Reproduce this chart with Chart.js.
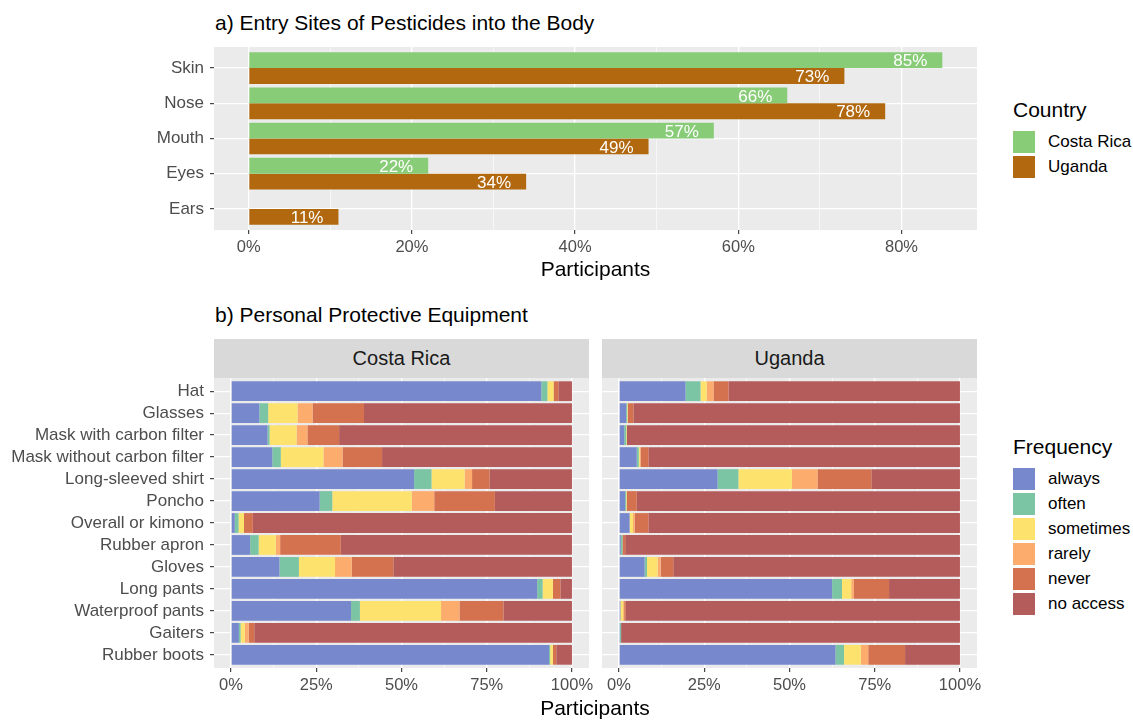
<!DOCTYPE html>
<html>
<head>
<meta charset="utf-8">
<title>Pesticide exposure</title>
<script src="https://cdn.jsdelivr.net/npm/chart.js@4.4.1/dist/chart.umd.min.js"></script>
<style>
  body { margin: 0; background: #fff; font-family: "Liberation Sans", Arial, sans-serif; }
  #page { position: relative; width: 1133px; height: 720px; overflow: hidden; }
  #page > * { position: absolute; }
  .title { font-size: 21px; line-height: 24px; color: #000; white-space: nowrap; }
  .strip { background: #d9d9d9; color: #1a1a1a; font-size: 20px; display: flex; align-items: center; justify-content: center; }
  .legend .legend-title { font-size: 21px; line-height: 24px; color: #000; margin-bottom: 9px; white-space: nowrap; }
  .legend .item { display: flex; align-items: center; height: 22px; margin-bottom: 3px; }
  .legend .key { width: 22px; height: 22px; margin-right: 13px; }
  .legend .label { font-size: 17px; color: #000; white-space: nowrap; }
</style>
</head>
<body>
<div id="page">
  <div class="title" style="left:215px; top:11px;">a) Entry Sites of Pesticides into the Body</div>
  <canvas id="entryChart" width="1000" height="256" style="left:0; top:27px;"></canvas>
  <div class="legend" id="countryLegend" style="left:1013px; top:98px;"></div>

  <div class="title" style="left:215px; top:303px;">b) Personal Protective Equipment</div>
  <div class="strip" style="left:214px; top:339px; width:375px; height:39px;">Costa Rica</div>
  <div class="strip" style="left:602px; top:339px; width:375px; height:39px;">Uganda</div>
  <canvas id="costaRicaChart" width="600" height="340" style="left:0; top:358px;"></canvas>
  <canvas id="ugandaChart" width="398" height="340" style="left:592px; top:358px;"></canvas>
  <div class="title" style="left:495px; top:696px; width:200px; text-align:center;">Participants</div>
  <div class="legend" id="frequencyLegend" style="left:1013px; top:435px;"></div>
</div>

<script>
// ---- a) entry sites ----
const bodySites = ['Skin', 'Nose', 'Mouth', 'Eyes', 'Ears'];
const countries = ['Costa Rica', 'Uganda'];
const countryColors = ['#88cc77', '#b1680f'];
const costaRicaEntry = [85, 66, 57, 22, 0];
const ugandaEntry = [73, 78, 49, 34, 11];
const entryTicks = [0, 10, 20, 30, 40, 50, 60, 70, 80];
const entryMajor = [0, 20, 40, 60, 80];

// ---- b) protective equipment (percent of participants) ----
const equipment = ['Hat', 'Glasses', 'Mask with carbon filter', 'Mask without carbon filter',
  'Long-sleeved shirt', 'Poncho', 'Overall or kimono', 'Rubber apron', 'Gloves',
  'Long pants', 'Waterproof pants', 'Gaiters', 'Rubber boots'];
const frequencies = ['always', 'often', 'sometimes', 'rarely', 'never', 'no access'];
const frequencyColors = ['#7789cc', '#7bc4a4', '#fde36e', '#fcad6e', '#d4714f', '#b45c5c'];

const costaRicaAlways    = [91.0, 8.3, 10.7, 12.1, 53.7, 26.0, 1.1, 5.6, 14.2, 89.8, 35.2, 2.3, 93.3];
const costaRicaOften     = [1.8, 2.6, 0.6, 2.5, 5.1, 3.7, 1.1, 2.5, 5.7, 1.6, 2.6, 0.5, 0.3];
const costaRicaSometimes = [1.8, 8.6, 7.9, 12.5, 9.7, 23.3, 1.6, 5.0, 10.6, 3.0, 23.8, 1.2, 0.8];
const costaRicaRarely    = [0, 4.4, 3.2, 5.6, 2.2, 6.6, 0, 1.3, 4.9, 0, 5.4, 1.2, 0];
const costaRicaNever     = [1.4, 15.1, 9.3, 11.6, 5.1, 17.8, 2.6, 17.8, 12.2, 2.2, 12.9, 1.6, 1.0];
const costaRicaNoAccess  = [4.0, 61.0, 68.3, 55.7, 24.2, 22.6, 93.6, 67.8, 52.4, 3.4, 20.1, 93.2, 4.6];

const ugandaAlways    = [19.5, 2.1, 1.5, 5.2, 28.9, 1.8, 3.1, 0.5, 7.5, 62.5, 0.4, 0.3, 63.5];
const ugandaOften     = [4.4, 0.3, 0.6, 0.6, 6.1, 0.3, 0, 0.5, 0.7, 2.9, 0, 0.3, 2.5];
const ugandaSometimes = [1.8, 0.2, 0.2, 0.3, 15.7, 0.2, 1.0, 0, 3.1, 2.7, 0.8, 0, 4.9];
const ugandaRarely    = [2.0, 0, 0, 0.2, 7.5, 0, 0.5, 0, 0.9, 0.8, 0.3, 0, 2.2];
const ugandaNever     = [4.4, 1.6, 0, 2.3, 15.8, 2.9, 4.0, 0.8, 3.7, 10.3, 0.5, 0, 10.8];
const ugandaNoAccess  = [67.9, 95.8, 97.7, 91.4, 26.0, 94.8, 91.4, 98.2, 84.1, 20.8, 98.0, 99.4, 16.1];

const ppeTicks = [0, 12.5, 25, 37.5, 50, 62.5, 75, 87.5, 100];
const ppeMajor = [0, 25, 50, 75, 100];

Chart.defaults.font.family = '"Liberation Sans", Arial, sans-serif';
Chart.defaults.color = '#4d4d4d';
Chart.defaults.animation = false;

// grey panel like ggplot
const panelBackground = {
  id: 'panelBackground',
  beforeDraw(chart) {
    const { ctx, chartArea: a } = chart;
    ctx.save();
    ctx.fillStyle = '#ebebeb';
    ctx.fillRect(a.left, a.top, a.right - a.left, a.bottom - a.top);
    ctx.restore();
  }
};

// white percent labels near the end of each bar
const barLabels = {
  id: 'barLabels',
  afterDatasetsDraw(chart) {
    const { ctx } = chart;
    ctx.save();
    ctx.font = '17px "Liberation Sans", Arial, sans-serif';
    ctx.fillStyle = '#ffffff';
    ctx.textAlign = 'right';
    ctx.textBaseline = 'middle';
    chart.data.datasets.forEach((ds, i) => {
      chart.getDatasetMeta(i).data.forEach((bar, j) => {
        const v = ds.data[j].x;
        if (!v) return;
        ctx.fillText(v + '%', bar.x - 15, bar.y + 1.5);
      });
    });
    ctx.restore();
  }
};

function valueAxis(min, max, tickValues, majors, height, title) {
  const isMajor = v => majors.includes(v);
  return {
    type: 'linear', min: min, max: max, bounds: 'data',
    stacked: true,
    afterBuildTicks: s => { s.ticks = tickValues.map(v => ({ value: v })); },
    afterFit: s => { s.height = height; },
    border: { display: false },
    grid: {
      color: '#ffffff',
      lineWidth: c => (c.tick && isMajor(c.tick.value)) ? 1.3 : 0.6,
      tickColor: c => (c.tick && isMajor(c.tick.value)) ? '#333333' : 'rgba(0,0,0,0)',
      tickLength: 4,
      tickWidth: 1.1
    },
    ticks: {
      autoSkip: false, maxRotation: 0, padding: 4,
      font: { size: 16.5 }, color: '#4d4d4d',
      callback: v => isMajor(v) ? v + '%' : ''
    },
    title: title ? { display: true, text: title, color: '#000', font: { size: 21 }, padding: { top: 0, bottom: 0 } } : { display: false }
  };
}

function indexAxis(labels, showLabels, width, stacked) {
  return {
    type: 'linear', min: -0.6, max: labels.length - 0.4, reverse: true,
    offset: false, bounds: 'data', stacked: stacked,
    afterBuildTicks: s => { s.ticks = labels.map((l, i) => ({ value: i })); },
    afterFit: s => { s.width = width; },
    border: { display: false },
    grid: {
      color: '#ffffff', lineWidth: 1.3, offset: false,
      drawTicks: showLabels, tickLength: 4, tickColor: '#333333', tickWidth: 1.1
    },
    ticks: {
      display: showLabels, autoSkip: false, padding: 6,
      font: { size: 17 }, color: '#4d4d4d',
      callback: v => labels[v]
    }
  };
}

const asPoints = values => values.map((v, i) => ({ x: v, y: i }));

// ---- chart a ----
const entryData = [costaRicaEntry, ugandaEntry];
const entryXAxis = valueAxis(-4.25, 89.25, entryTicks, entryMajor, 53, 'Participants');
entryXAxis.stacked = false;
new Chart(document.getElementById('entryChart'), {
  type: 'bar',
  data: {
    datasets: countries.map((c, i) => ({
      label: c,
      data: asPoints(entryData[i]),
      backgroundColor: countryColors[i],
      borderWidth: 0,
      categoryPercentage: 0.9,
      barPercentage: 1
    }))
  },
  options: {
    indexAxis: 'y',
    responsive: false,
    layout: { padding: { top: 20, right: 23, left: 0, bottom: 0 } },
    plugins: { legend: { display: false }, tooltip: { enabled: false } },
    scales: {
      x: entryXAxis,
      y: indexAxis(bodySites, true, 214, false)
    }
  },
  plugins: [panelBackground, barLabels]
});

// ---- charts b ----
function ppeChart(canvasId, series, showLabels, yWidth, rightPad) {
  return new Chart(document.getElementById(canvasId), {
    type: 'bar',
    data: {
      datasets: frequencies.map((f, i) => ({
        label: f,
        data: asPoints(series[i]),
        backgroundColor: frequencyColors[i],
        borderWidth: 0,
        categoryPercentage: 0.9,
        barPercentage: 1
      }))
    },
    options: {
      indexAxis: 'y',
      responsive: false,
      layout: { padding: { top: 20, right: rightPad, left: 0, bottom: 0 } },
      plugins: { legend: { display: false }, tooltip: { enabled: false } },
      scales: {
        x: valueAxis(-5, 105, ppeTicks, ppeMajor, 30, null),
        y: indexAxis(equipment, showLabels, yWidth, true)
      }
    },
    plugins: [panelBackground]
  });
}

ppeChart('costaRicaChart', [costaRicaAlways, costaRicaOften, costaRicaSometimes,
  costaRicaRarely, costaRicaNever, costaRicaNoAccess], true, 214, 11);
ppeChart('ugandaChart', [ugandaAlways, ugandaOften, ugandaSometimes,
  ugandaRarely, ugandaNever, ugandaNoAccess], false, 10, 13);

// ---- legends ----
function buildLegend(el, title, names, colors) {
  let html = '<div class="legend-title">' + title + '</div>';
  names.forEach((n, i) => {
    html += '<div class="item"><div class="key" style="background:' + colors[i] + '"></div>' +
      '<div class="label">' + n + '</div></div>';
  });
  el.innerHTML = html;
}
buildLegend(document.getElementById('countryLegend'), 'Country', countries, countryColors);
buildLegend(document.getElementById('frequencyLegend'), 'Frequency', frequencies, frequencyColors);
</script>
</body>
</html>
